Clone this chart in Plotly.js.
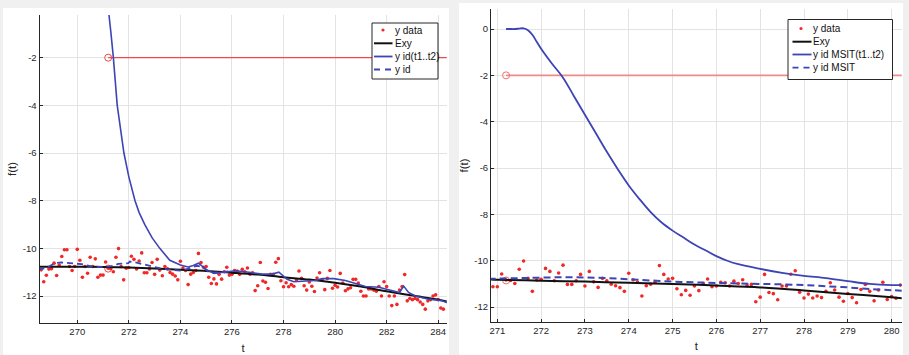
<!DOCTYPE html>
<html><head><meta charset="utf-8">
<script src="https://cdn.plot.ly/plotly-3.0.1.min.js"></script>
<style>html,body{margin:0;padding:0;background:#f0f0f0;} #chart{width:909px;height:355px;}</style>
</head><body><div id="chart"></div>
<script>
// ---- measured data (y data, shared by both panels) ----
const dataT = [268.6,268.7,268.8,268.9,269.0,269.1,269.2,269.3,269.4,269.5,269.6,269.7,269.8,269.9,
270.0,270.1,270.2,270.3,270.4,270.5,270.6,270.7,270.8,270.9,271.0,271.1,271.2,271.3,271.4,271.5,271.6,271.7,271.8,271.9,
272.0,272.1,272.2,272.3,272.4,272.5,272.6,272.7,272.8,272.9,273.0,273.1,273.2,273.3,273.4,273.5,273.6,273.7,273.8,273.9,
274.0,274.1,274.2,274.3,274.4,274.5,274.6,274.7,274.8,274.9,275.0,275.1,275.2,275.3,275.4,275.5,275.6,275.7,275.8,275.9,
276.0,276.1,276.2,276.3,276.4,276.5,276.6,276.7,276.8,276.9,277.0,277.1,277.2,277.3,277.4,277.5,277.6,277.7,277.8,277.9,
278.0,278.1,278.2,278.3,278.4,278.5,278.6,278.7,278.8,278.9,279.0,279.1,279.2,279.3,279.4,279.5,279.6,279.7,279.8,279.9,
280.0,280.1,280.2,280.3,280.4,280.5,280.6,280.7,280.8,280.9,281.0,281.1,281.2,281.3,281.4,281.5,281.6,281.7,281.8,281.9,
282.0,282.1,282.2,282.3,282.4,282.5,282.6,282.7,282.8,282.9,283.0,283.1,283.2,283.3,283.4,283.5,283.6,283.7,283.8,283.9,
284.0,284.1,284.2];
const dataY = [-10.9,-11.4,-11.13,-10.87,-10.85,-10.62,-11.14,-10.7,-10.34,-10.06,-10.06,-10.76,-10.93,-10.76,
-10.04,-10.5,-11.21,-10.76,-11.04,-10.37,-10.76,-10.44,-11.21,-11.12,-11.12,-10.57,-10.83,-10.85,-10.98,-10.37,-10.01,-10.76,-11.32,-10.83,
-10.8,-10.33,-10.46,-10.86,-10.53,-10.19,-11.02,-11.02,-10.86,-10.59,-11.09,-10.46,-10.91,-11.15,-10.76,-10.86,-11.01,-11.08,-11.16,-11.32,
-10.54,-10.82,-10.93,-11.52,-11.08,-11.01,-10.93,-10.21,-10.59,-10.79,-10.76,-11.21,-11.47,-11.28,-11.49,-11.09,-11.29,-10.98,-10.79,-11.12,
-11.09,-10.93,-10.95,-11.09,-10.88,-10.98,-10.82,-11.08,-11.02,-11.77,-11.57,-10.59,-11.37,-11.42,-11.68,-11.09,-11.09,-10.58,-10.43,-11.36,
-11.61,-11.44,-11.61,-11.52,-11.59,-11.32,-10.95,-11.26,-11.57,-11.75,-11.41,-11.59,-11.81,-11.24,-11.02,-11.32,-11.73,-11.26,-10.93,-11.67,
-11.55,-11.62,-11.05,-11.45,-11.78,-11.7,-11.65,-11.3,-11.3,-11.45,-11.8,-12.0,-12.0,-11.7,-11.7,-11.75,-11.8,-11.6,-12.0,-11.4,
-11.6,-12.0,-12.4,-12.0,-12.35,-11.75,-11.6,-11.1,-12.2,-12.1,-12.15,-12.1,-12.15,-12.25,-12.35,-12.55,-12.2,-12.15,-12.0,-11.95,
-12.15,-12.5,-12.55];

// ---- left panel curves ----
const exyLeftT = [268.5,269,270,271,272,273,274,275,276,277,278,279,280,281,282,283,284,284.4];
const exyLeftY = [-10.77,-10.77,-10.77,-10.78,-10.8,-10.84,-10.9,-10.95,-11.02,-11.1,-11.21,-11.31,-11.44,-11.6,-11.8,-11.98,-12.15,-12.25];
const idT12LeftT = [271.2,271.23,271.3,271.4,271.55,271.7,271.81,272.0,272.24,272.4,272.62,272.9,273.2,273.59,273.8,274.0,274.3,274.5,274.7,275.0,275.3,275.6,276.0,276.14,276.66,277.17,277.56,277.82,278.14,278.4,278.72,279.24,279.5,279.95,280.4,280.73,281.18,281.7,282.21,282.5,282.66,282.85,283.11,283.63,284.15,284.4];
const idT12LeftY = [0.6,-0.21,-0.9,-2.0,-4.0,-5.2,-6.0,-7.0,-8.0,-8.5,-9.0,-9.55,-10.0,-10.5,-10.62,-10.7,-10.78,-10.72,-10.62,-10.88,-11.05,-11.0,-10.95,-10.94,-11.0,-11.08,-11.08,-11.0,-11.3,-11.4,-11.38,-11.35,-11.27,-11.27,-11.35,-11.46,-11.6,-11.63,-11.77,-11.85,-11.58,-11.85,-12.0,-12.13,-12.2,-12.3];
const idLeftT = [268.5,268.55,268.8,269.14,269.4,269.84,270.17,270.56,271.07,271.4,271.59,271.98,272.04,272.3,272.69,273.2,273.72,273.98,274.24,274.63,274.88,275.08,275.27,275.6,276.0];
const idLeftY = [-10.9,-10.87,-10.82,-10.62,-10.59,-10.62,-10.66,-10.76,-10.79,-10.73,-10.65,-10.62,-10.55,-10.6,-10.69,-10.83,-10.9,-10.93,-10.87,-10.73,-10.79,-10.97,-11.01,-11.0,-10.95];

// ---- right panel curves ----
const exyRightT = [270.8,271,272,273,274,275,276,277,278,279,280,280.3];
const exyRightY = [-10.8,-10.82,-10.86,-10.9,-10.95,-11.0,-11.07,-11.15,-11.28,-11.43,-11.58,-11.63];
const msitT12T = [271.2,271.3,271.4,271.5,271.6,271.7,271.8,271.9,272.0,272.25,272.5,272.75,273.0,273.25,273.5,273.75,274.0,274.25,274.5,274.75,275.0,275.25,275.5,275.75,276.0,276.25,276.5,277.0,277.5,278.0,278.5,279.0,279.5,280.0,280.3];
const msitT12Y = [0,0,0,0.02,0.03,-0.05,-0.25,-0.55,-0.85,-1.5,-2.1,-2.9,-3.7,-4.5,-5.3,-6.05,-6.75,-7.35,-7.9,-8.35,-8.7,-9.0,-9.3,-9.55,-9.8,-10.0,-10.15,-10.35,-10.52,-10.65,-10.75,-10.88,-11.0,-11.05,-11.05];
const msitT = [270.8,271.5,272,272.5,273,273.5,274,274.5,275,275.5,276,276.5,277,277.5,278,278.5,279,279.5,280,280.3];
const msitY = [-10.78,-10.75,-10.73,-10.71,-10.72,-10.75,-10.8,-10.85,-10.9,-10.93,-10.96,-10.98,-11.0,-11.02,-11.05,-11.1,-11.15,-11.22,-11.27,-11.3];

// ---- threshold line and markers ----
const thrT = [271.2, 290];
const thrY = [-2, -2];
const markT = [271.2, 271.2];
const markY = [-2, -10.85];

// ---- ticks ----
const leftXTicks = [270,272,274,276,278,280,282,284];
const leftYTicks = [-2,-4,-6,-8,-10,-12];
const rightXTicks = [271,272,273,274,275,276,277,278,279,280];
const rightYTicks = [0,-2,-4,-6,-8,-10,-12];
const leftLegend = ['y data','Exy','y id(t1..t2)','y id'];
const rightLegend = ['y data','Exy','y id MSIT(t1..t2)','y id MSIT'];

const W = 909, H = 355;
const fx = p => p / W, fy = p => 1 - p / H;
const FONT = 'Liberation Sans, Arial, sans-serif';
const BLUE = '#3d44b5', RED = '#f02828';

function tr(x, y, xa, ya, extra) { return Object.assign({x, y, xaxis: xa, yaxis: ya, showlegend: false, hoverinfo: 'skip'}, extra); }

const traces = [
  // left
  tr(thrT, thrY, 'x', 'y', {mode: 'lines', line: {color: '#f04848', width: 1.2}}),
  tr(markT, markY, 'x', 'y', {mode: 'markers', marker: {symbol: 'circle-open', size: 7, color: '#f04848', line: {width: 1}}}),
  tr(dataT, dataY, 'x', 'y', {mode: 'markers', marker: {size: 3.6, color: RED}}),
  tr(exyLeftT, exyLeftY, 'x', 'y', {mode: 'lines', line: {color: '#111', width: 2, shape: 'spline'}}),
  tr(idLeftT, idLeftY, 'x', 'y', {mode: 'lines', line: {color: BLUE, width: 1.8, dash: '6px,4px'}}),
  tr(idT12LeftT, idT12LeftY, 'x', 'y', {mode: 'lines', line: {color: BLUE, width: 1.6}}),
  // right
  tr(thrT, thrY, 'x2', 'y2', {mode: 'lines', line: {color: '#f08a8a', width: 1.8}}),
  tr(markT, markY, 'x2', 'y2', {mode: 'markers', marker: {symbol: 'circle-open', size: 7, color: '#f07070', line: {width: 1}}}),
  tr(dataT, dataY, 'x2', 'y2', {mode: 'markers', marker: {size: 3.6, color: RED}}),
  tr(exyRightT, exyRightY, 'x2', 'y2', {mode: 'lines', line: {color: '#111', width: 2, shape: 'spline'}}),
  tr(msitT, msitY, 'x2', 'y2', {mode: 'lines', line: {color: BLUE, width: 2, dash: '7px,4px', shape: 'spline'}}),
  tr(msitT12T, msitT12Y, 'x2', 'y2', {mode: 'lines', line: {color: BLUE, width: 1.8, shape: 'spline', smoothing: 1}})
];

function axis(domain, range, tickvals, title, standoff) {
  return {
    domain, range, tickvals, ticktext: tickvals.map(v => String(v)),
    showline: true, linecolor: '#262626', linewidth: 1, mirror: false,
    showgrid: true, gridcolor: '#e3e3e3', gridwidth: 1, zeroline: false,
    ticks: 'inside', ticklen: 3, tickcolor: '#262626', tickwidth: 1,
    tickfont: {family: FONT, size: 9.5, color: '#262626'},
    title: {text: title, font: {family: FONT, size: 11.5, color: '#262626'}, standoff},
    automargin: false, fixedrange: true
  };
}

const shapes = [];
const annotations = [];
// white figure backgrounds
shapes.push({type: 'rect', xref: 'paper', yref: 'paper', x0: fx(3), x1: fx(449), y0: fy(355), y1: fy(8), fillcolor: '#ffffff', line: {width: 0}, layer: 'below'});
shapes.push({type: 'rect', xref: 'paper', yref: 'paper', x0: fx(459), x1: fx(903), y0: fy(355), y1: fy(3), fillcolor: '#ffffff', line: {width: 0}, layer: 'below'});

function legend(box, rows, lx0, lx1, dotx, textx, labels) {
  shapes.push({type: 'rect', xref: 'paper', yref: 'paper', x0: fx(box[0]), x1: fx(box[2]), y0: fy(box[3]), y1: fy(box[1]),
    fillcolor: '#ffffff', line: {color: '#262626', width: 1}, layer: 'above'});
  shapes.push({type: 'circle', xref: 'paper', yref: 'paper', x0: fx(dotx - 1.6), x1: fx(dotx + 1.6), y0: fy(rows[0] + 1.6), y1: fy(rows[0] - 1.6),
    fillcolor: RED, line: {width: 0}, layer: 'above'});
  shapes.push({type: 'line', xref: 'paper', yref: 'paper', x0: fx(lx0), x1: fx(lx1), y0: fy(rows[1]), y1: fy(rows[1]), line: {color: '#111', width: 2}, layer: 'above'});
  shapes.push({type: 'line', xref: 'paper', yref: 'paper', x0: fx(lx0), x1: fx(lx1), y0: fy(rows[2]), y1: fy(rows[2]), line: {color: BLUE, width: 1.8}, layer: 'above'});
  shapes.push({type: 'line', xref: 'paper', yref: 'paper', x0: fx(lx0), x1: fx(lx1), y0: fy(rows[3]), y1: fy(rows[3]), line: {color: BLUE, width: 1.8, dash: '6px,5px'}, layer: 'above'});
  labels.forEach((s, i) => annotations.push({xref: 'paper', yref: 'paper', x: fx(textx), y: fy(rows[i]), text: s, showarrow: false,
    xanchor: 'left', yanchor: 'middle', borderpad: 0, font: {family: FONT, size: 10, color: '#111'}}));
}
legend([372, 23, 438, 79], [30, 43.3, 56.5, 69.5], 374, 392.5, 383, 393.5, leftLegend);
legend([788, 19.5, 892.5, 79.5], [28.5, 41.7, 54.5, 67.7], 792.5, 811.5, 801, 811.5, rightLegend);

const layout = {
  width: W, height: H, margin: {l: 0, r: 0, t: 0, b: 0},
  paper_bgcolor: '#f0f0f0', plot_bgcolor: '#ffffff', showlegend: false,
  font: {family: FONT},
  xaxis: axis([fx(39.5), fx(446.7)], [268.535, 284.33], leftXTicks, 't', 7),
  yaxis: axis([fy(323), fy(15)], [-13.13, -0.21], leftYTicks, 'f(t)', 3),
  xaxis2: Object.assign(axis([fx(491), fx(901.7)], [270.856, 280.23], rightXTicks, 't', 6), {anchor: 'y2'}),
  yaxis2: Object.assign(axis([fy(321.7), fy(9.3)], [-12.63, 0.85], rightYTicks, 'f(t)', 3), {anchor: 'x2'}),
  shapes, annotations
};
layout.xaxis.anchor = 'y';
layout.yaxis.anchor = 'x';

Plotly.newPlot('chart', traces, layout, {displayModeBar: false, staticPlot: true});
</script></body></html>
